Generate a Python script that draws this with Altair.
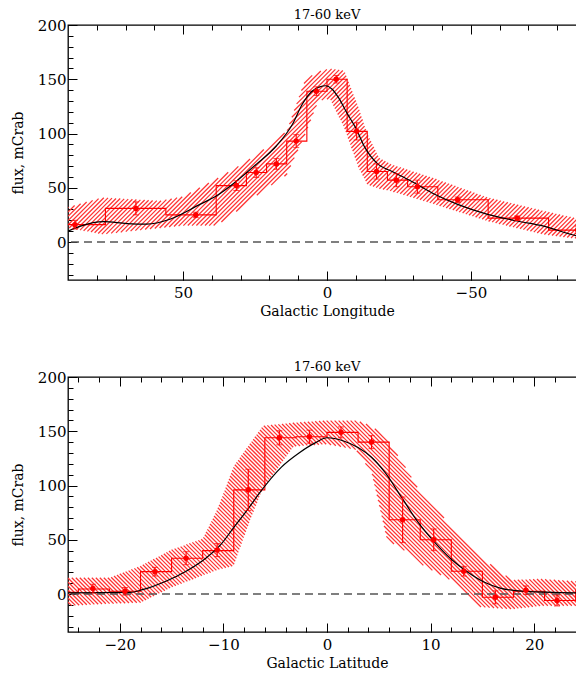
import altair as alt
import numpy as np
import pandas as pd

# ---------------- data: Galactic Longitude panel ----------------
lon_edges = [90, 77, 56, 38.5, 28, 21, 14, 7, 0, -7, -14, -21, -28, -38.5, -56, -77, -90]
lon_hist = [16, 31, 25, 52, 64, 72, 93, 139, 150, 102, 65, 57, 51, 39, 22, 11]
lon_pts = [87.6, 66.4, 45.6, 31.5, 24.6, 17.6, 10.7, 3.7, -3.2, -10.3, -17.2, -24.1, -31.4, -45.4, -66.1, -87.1]
lon_flux = [16, 31, 25, 52, 64, 72, 93, 139, 150, 102, 65, 57, 51, 39, 22, 11]
lon_err = [4, 6, 2.5, 4.5, 4.5, 5, 6, 4, 3.5, 8, 7, 6, 6, 2.5, 2, 3]
lon_band_x = [90, 78, 58, 50, 38.5, 30, 23.5, 14, 7.5, 3, -1, -6, -11, -14, -18, -22, -37, -56, -75, -90]
lon_band_hi = [32, 41, 38, 42, 58, 71, 82, 102, 150, 157, 160, 158, 124, 100, 78, 72, 59, 41, 29, 20]
lon_band_lo = [13, 7, 13, 15, 15, 31, 45, 62, 100, 130, 132, 105, 68, 53, 49, 47, 35, 19, 7, 2]
lon_model_x = [90, 85.6, 77.6, 69.5, 62.6, 54.6, 44.2, 38.5, 31.5, 24.6, 17.6, 12, 8.6, 5.2, 2.5, 0.5,
               -1.7, -4, -6.9, -10, -13.2, -17.8, -22.3, -29.3, -37.4, -45.4, -55.8, -66.1, -75.3, -87.7, -90]
lon_model_y = [10, 14.7, 18.8, 17, 16.5, 21, 34.7, 42.4, 56, 71.6, 88.5, 108.5, 127, 139, 143, 144,
               141, 133, 119, 105, 87, 71.6, 65.4, 56, 44, 34.7, 25.5, 19.4, 14.7, 5.5, 5]

# ---------------- data: Galactic Latitude panel ----------------
lat_edges = [-25, -24, -21, -18, -15, -12, -9, -6, -3, 0, 3, 6, 9, 12, 15, 18, 21, 24, 25]
lat_hist = [1.5, 4.6, 2.5, 20.6, 33, 40, 96, 144, 145, 149, 140, 68.4, 50, 21, -3, 2.5, -6, 3.4]
lat_pts = [-22.6, -19.5, -16.6, -13.6, -10.6, -7.6, -4.6, -1.7, 1.35, 4.3, 7.3, 10.3, 13.2, 16.25, 19.2, 22.2]
lat_flux = [5, 2.5, 20.6, 33, 40.5, 96, 144, 145, 149, 140, 68.4, 50, 21, -3, 3.5, -6]
lat_err = [4, 3.5, 4, 6, 6, 19, 6.5, 6, 5, 6, 21, 10, 4.5, 6, 4, 5]
lat_band_x = [-25, -21, -18, -15, -12, -10.6, -9, -7.5, -6.2, -3.2, 0, 2.8, 4.3, 5.8, 7.5, 8.8, 10.5, 12.3, 14.7, 17.8, 20.7, 25]
lat_band_hi = [15, 15, 26, 41, 51, 78, 118, 138, 155, 158, 160, 160, 155, 142, 118, 97, 78, 60, 35, 13, 14, 11]
lat_band_lo = [-11, -9, -8, 6, 17, 22, 26, 66, 97, 136, 138, 133, 112, 50, 40, 29, 20, 11, -12, -14, -11, -11]
lat_model_x = [-25, -19, -17.8, -15.5, -13.6, -11.7, -10.3, -9.1, -7.5, -6.6, -4.4, -2.7, -1.1, 0, 1.6, 3,
               4.3, 5.6, 7.2, 8.8, 10.4, 12, 13.6, 15.2, 16.8, 19.1, 25]
lat_model_y = [1, 1.5, 4, 12, 21, 33, 45, 60, 80, 92, 117, 130, 139.5, 144, 141, 135,
               126, 112, 89, 66, 47.6, 32, 20, 10.8, 5.2, 2.5, 1]

TITLE = "17-60 keV"
Y_TITLE = "flux, mCrab"
Y_MAJOR = [0, 50, 100, 150, 200]
Y_MINOR = list(range(-30, 200, 10))

FONT = "DejaVu Serif"
RED = "#ff0000"
HATCH = "#ff3333"
PW, PH = 518, 255
YDOM = [-35, 200]


def hatch_segments(bx, bhi, blo, xdom, slant, period):
    """Diagonal hatch lines clipped to the band between blo and bhi (in data units)."""
    xr = xdom[1] - xdom[0]
    yr = YDOM[1] - YDOM[0]
    px = (np.asarray(bx, float) - xdom[0]) / xr * PW
    pt = (YDOM[1] - np.asarray(bhi, float)) / yr * PH
    pb = (YDOM[1] - np.asarray(blo, float)) / yr * PH
    o = np.argsort(px)
    px, pt, pb = px[o], pt[o], pb[o]
    g = np.arange(max(px[0], 0.0), min(px[-1], PW) + 1e-9, 0.2)
    gt = np.interp(g, px, pt)
    gb = np.interp(g, px, pb)
    cs = np.arange(period / 2, PW + PH, period) if slant == "/" else np.arange(-PH + period / 2, PW, period)
    rows = []
    for c in cs:
        ly = c - g if slant == "/" else g - c
        idx = np.flatnonzero((ly >= gt) & (ly <= gb))
        if idx.size < 3:
            continue
        br = np.flatnonzero(np.diff(idx) > 1)
        starts = np.r_[idx[0], idx[br + 1]]
        ends = np.r_[idx[br], idx[-1]]
        for s, e in zip(starts, ends):
            if e - s < 2:
                continue
            rows.append({
                "x": xdom[0] + g[s] / PW * xr, "y": YDOM[1] - ly[s] / PH * yr,
                "x2": xdom[0] + g[e] / PW * xr, "y2": YDOM[1] - ly[e] / PH * yr,
            })
    return pd.DataFrame(rows)


def tick_axis(orient, values, size, offset):
    return alt.Axis(orient=orient, values=values, tickSize=size, offset=offset, labels=False,
                    domain=False, grid=False, title=None, ticks=True, tickColor="black", tickWidth=1)


def panel(edges, hist, pts, flux, err, bx, bhi, blo, mx, my, xdom, x_major, x_minor, xtitle, slant, period):
    xs = alt.Scale(domain=xdom, nice=False, zero=False)
    ys = alt.Scale(domain=YDOM, nice=False, zero=False)
    x_main = alt.Axis(orient="bottom", values=x_major, title=xtitle, ticks=False, domain=False, grid=False,
                      labelFont=FONT, labelFontSize=15, labelPadding=5, labelColor="black",
                      titleFont=FONT, titleFontSize=14, titleFontWeight="normal", titleColor="black",
                      titlePadding=4)
    y_main = alt.Axis(orient="left", values=Y_MAJOR, title=Y_TITLE, ticks=False, domain=False, grid=False,
                      labelFont=FONT, labelFontSize=15, labelPadding=2, labelColor="black",
                      titleFont=FONT, titleFontSize=14, titleFontWeight="normal", titleColor="black",
                      titlePadding=12)

    d_hatch = hatch_segments(bx, bhi, blo, xdom, slant, period)
    d_hist = pd.DataFrame({"x": edges, "y": hist + [hist[-1]], "i": list(range(len(edges)))})
    d_model = pd.DataFrame({"x": mx, "y": my, "i": list(range(len(mx)))})
    d_pts = pd.DataFrame({"x": pts, "y": flux,
                          "lo": [f - e for f, e in zip(flux, err)],
                          "hi": [f + e for f, e in zip(flux, err)]})
    d_zero = pd.DataFrame({"y": [0]})

    band = alt.Chart(d_hatch).mark_rule(color=HATCH, strokeWidth=1.25, clip=True).encode(
        x=alt.X("x:Q", scale=xs, axis=x_main),
        y=alt.Y("y:Q", scale=ys, axis=y_main),
        x2="x2:Q",
        y2="y2:Q",
    )
    zero = alt.Chart(d_zero).mark_rule(color="#555555", strokeDash=[8, 5], strokeWidth=1.5).encode(
        y=alt.Y("y:Q", scale=ys, axis=None)
    )
    histo = alt.Chart(d_hist).mark_line(interpolate="step-after", color=RED, strokeWidth=1.1, clip=True).encode(
        x=alt.X("x:Q", scale=xs, axis=tick_axis("top", x_major, 9, -PH)),
        y=alt.Y("y:Q", scale=ys, axis=tick_axis("right", Y_MAJOR, 9, -PW)),
        order="i:Q",
    )
    model = alt.Chart(d_model).mark_line(color="black", strokeWidth=1.2, interpolate="monotone", clip=True).encode(
        x=alt.X("x:Q", scale=xs, axis=tick_axis("top", x_minor, 5, -PH)),
        y=alt.Y("y:Q", scale=ys, axis=tick_axis("right", Y_MINOR, 5, -PW)),
        order="i:Q",
    )
    ebar = alt.Chart(d_pts).mark_rule(color=RED, strokeWidth=1.1).encode(
        x=alt.X("x:Q", scale=xs, axis=tick_axis("bottom", x_major, 9, -PH)),
        y=alt.Y("lo:Q", scale=ys, axis=tick_axis("left", Y_MAJOR, 9, -PW)),
        y2="hi:Q",
    )
    dots = alt.Chart(d_pts).mark_point(filled=True, size=30, color=RED, opacity=1).encode(
        x=alt.X("x:Q", scale=xs, axis=tick_axis("bottom", x_minor, 5, -PH)),
        y=alt.Y("y:Q", scale=ys, axis=tick_axis("left", Y_MINOR, 5, -PW)),
    )
    cap_lo = alt.Chart(d_pts).mark_tick(orient="horizontal", size=6, thickness=1, color=RED).encode(
        x=alt.X("x:Q", scale=xs, axis=None), y=alt.Y("lo:Q", scale=ys, axis=None))
    cap_hi = alt.Chart(d_pts).mark_tick(orient="horizontal", size=6, thickness=1, color=RED).encode(
        x=alt.X("x:Q", scale=xs, axis=None), y=alt.Y("hi:Q", scale=ys, axis=None))

    return alt.layer(band, zero, histo, model, ebar, dots, cap_lo, cap_hi).resolve_axis(
        x="independent", y="independent"
    ).properties(
        width=PW, height=PH,
        title=alt.TitleParams(TITLE, font=FONT, fontSize=13, fontWeight="normal", color="black",
                              anchor="middle", offset=-4),
    )


top = panel(lon_edges, lon_hist, lon_pts, lon_flux, lon_err, lon_band_x, lon_band_hi, lon_band_lo,
            lon_model_x, lon_model_y, [90, -90], [50, 0, -50], list(range(-80, 90, 10)),
            "Galactic Longitude", "/", 4.3)
bottom = panel(lat_edges, lat_hist, lat_pts, lat_flux, lat_err, lat_band_x, lat_band_hi, lat_band_lo,
               lat_model_x, lat_model_y, [-25, 25], [-20, -10, 0, 10, 20], list(range(-24, 25, 2)),
               "Galactic Latitude", "\\", 4.0)

chart = alt.vconcat(top, bottom, spacing=41).properties(
    padding={"left": 2, "top": 0, "right": -12, "bottom": 0}
).configure_view(stroke="black", strokeWidth=1.3)

chart.save("out.html", embed_options={"renderer": "svg", "actions": False})
